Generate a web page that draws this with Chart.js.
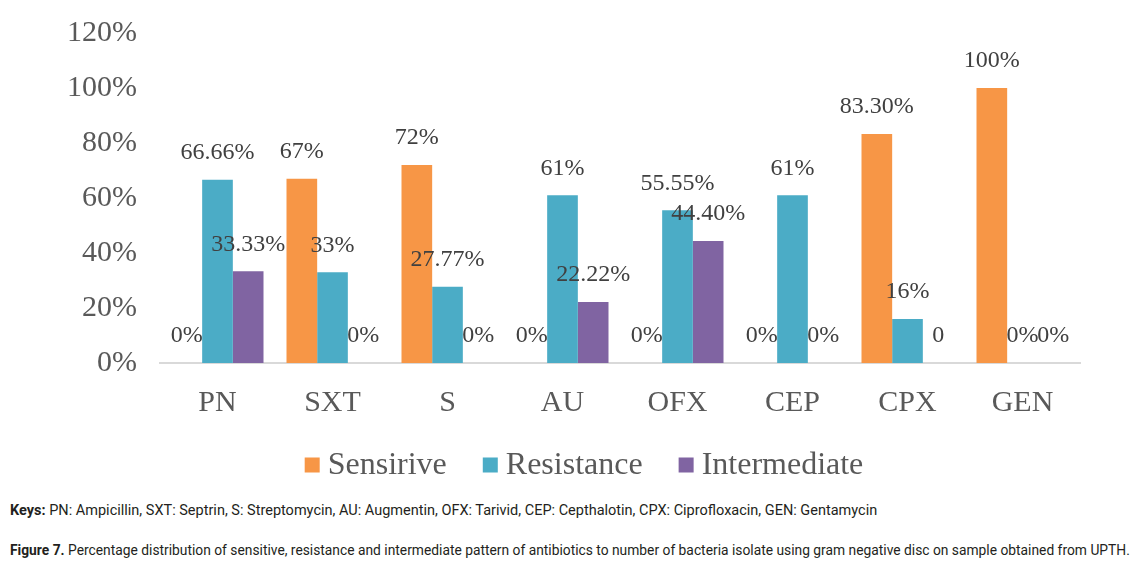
<!DOCTYPE html>
<html>
<head>
<meta charset="utf-8">
<script src="https://cdn.jsdelivr.net/npm/chart.js@4.4.1/dist/chart.umd.min.js"></script>
<style>
  html, body { margin: 0; padding: 0; background: #fff; }
  body { width: 1135px; height: 565px; position: relative; overflow: hidden; }
  #wrap { position: absolute; left: 0; top: 0; width: 1135px; height: 492px; }
  .cap {
    position: absolute; left: 10px; white-space: nowrap;
    font-family: "Roboto", sans-serif;
    font-size: 14.5px; color: #231f20;
    transform-origin: 0 0;
  }
  .cap b { font-weight: bold; }
</style>
</head>
<body>
<div id="wrap"><canvas id="chart"></canvas></div>
<div class="cap" id="keys" data-w="867" style="top:502px"><b>Keys:</b> PN: Ampicillin, SXT: Septrin, S: Streptomycin, AU: Augmentin, OFX: Tarivid, CEP: Cepthalotin, CPX: Ciprofloxacin, GEN: Gentamycin</div>
<div class="cap" id="fig" data-w="1120" style="top:542px"><b>Figure 7.</b> Percentage distribution of sensitive, resistance and intermediate pattern of antibiotics to number of bacteria isolate using gram negative disc on sample obtained from UPTH.</div>
<script>
const categories = ["PN", "SXT", "S", "AU", "OFX", "CEP", "CPX", "GEN"];
const seriesNames = ["Sensirive", "Resistance", "Intermediate"];

const sensitive = [0, 67, 72, 0, 0, 0, 83.3, 100];
const resistance = [66.66, 33, 27.77, 61, 55.55, 61, 16, 0];
const intermediate = [33.33, 0, 0, 22.22, 44.4, 0, 0, 0];

const sensitiveLabels = ["0%", "67%", "72%", "0%", "0%", "0%", "83.30%", "100%"];
const resistanceLabels = ["66.66%", "33%", "27.77%", "61%", "55.55%", "61%", "16%", "0%"];
const intermediateLabels = ["33.33%", "0%", "0%", "22.22%", "44.40%", "0%", "0", "0%"];

const yTicks = [0, 20, 40, 60, 80, 100, 120];

const colors = ["#f79646", "#4bacc6", "#8064a2"];
const serif = "'Liberation Serif', 'Times New Roman', serif";

// squeeze captions to the reference line widths
document.querySelectorAll(".cap").forEach((el) => {
  const target = Number(el.dataset.w);
  el.style.transform = "scaleX(" + (target / el.scrollWidth) + ")";
});

const barLabels = {
  id: "barLabels",
  afterDatasetsDraw(chart) {
    const ctx = chart.ctx;
    ctx.save();
    ctx.font = "24px " + serif;
    ctx.fillStyle = "#404040";
    ctx.textAlign = "center";
    ctx.textBaseline = "middle";
    chart.data.datasets.forEach((ds, i) => {
      const meta = chart.getDatasetMeta(i);
      meta.data.forEach((bar, j) => {
        ctx.fillText(ds.valueLabels[j], bar.x, bar.y - 27);
      });
    });
    ctx.restore();
  }
};

// legend drawn by hand: small square, tight gap to the text
const bottomLegend = {
  id: "bottomLegend",
  afterDraw(chart) {
    const ctx = chart.ctx;
    const box = 15, gap = 8, itemGap = 36;
    ctx.save();
    ctx.font = "32px " + serif;
    ctx.textBaseline = "middle";
    const widths = chart.data.datasets.map((ds) => ctx.measureText(ds.label).width);
    const total = widths.reduce((a, w) => a + box + gap + w, 0) + itemGap * (widths.length - 1);
    let x = 584 - total / 2;
    const y = chart.chartArea.bottom + 102;
    chart.data.datasets.forEach((ds, i) => {
      ctx.fillStyle = ds.backgroundColor;
      ctx.fillRect(x, y - box / 2, box, box);
      ctx.fillStyle = "#595959";
      ctx.fillText(ds.label, x + box + gap, y + 1);
      x += box + gap + widths[i] + itemGap;
    });
    ctx.restore();
  }
};

new Chart(document.getElementById("chart"), {
  type: "bar",
  data: {
    labels: categories,
    datasets: [
      { label: seriesNames[0], data: sensitive, valueLabels: sensitiveLabels, backgroundColor: colors[0] },
      { label: seriesNames[1], data: resistance, valueLabels: resistanceLabels, backgroundColor: colors[1] },
      { label: seriesNames[2], data: intermediate, valueLabels: intermediateLabels, backgroundColor: colors[2] }
    ]
  },
  options: {
    responsive: true,
    maintainAspectRatio: false,
    animation: false,
    datasets: {
      bar: { categoryPercentage: 0.8, barPercentage: 1 }
    },
    layout: { padding: { top: 9, right: 55, left: 0, bottom: 65 } },
    plugins: {
      tooltip: { enabled: false },
      legend: { display: false }
    },
    scales: {
      x: {
        grid: { display: false },
        border: { color: "#d9d9d9", width: 2 },
        ticks: { color: "#595959", padding: 14, font: { family: serif, size: 30 } },
        afterFit(scale) { scale.height = 64; }
      },
      y: {
        min: 0,
        max: 120,
        afterBuildTicks(scale) { scale.ticks = yTicks.map((v) => ({ value: v })); },
        grid: { display: false },
        border: { display: false },
        ticks: {
          color: "#595959",
          padding: 15,
          font: { family: serif, size: 30 },
          callback(value) { return value + "%"; }
        },
        afterFit(scale) { scale.width = 160; }
      }
    }
  },
  plugins: [barLabels, bottomLegend]
});
</script>
</body>
</html>
